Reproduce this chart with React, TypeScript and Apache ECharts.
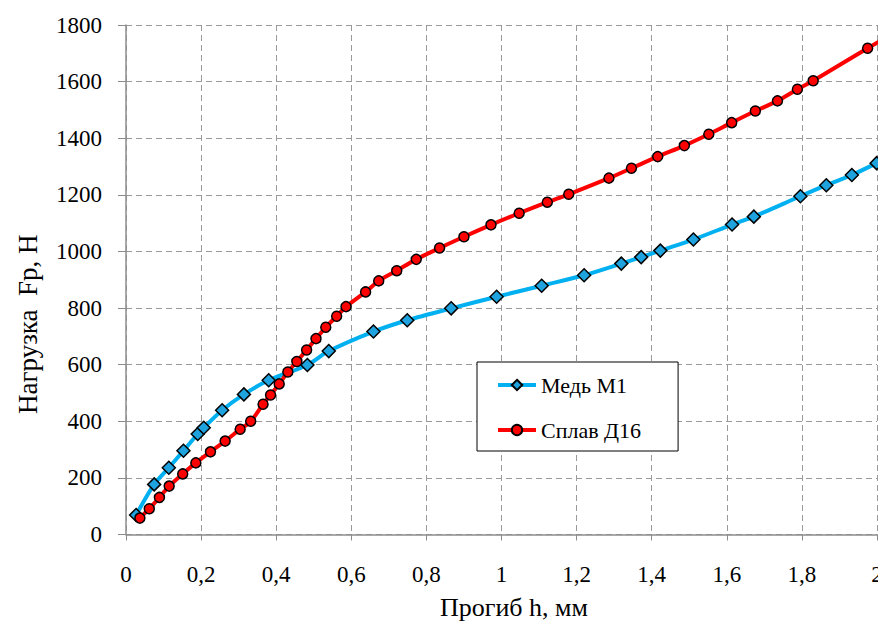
import React, { useEffect, useRef } from "react";
import * as echarts from "echarts";

const xTicks = [0, 0.2, 0.4, 0.6, 0.8, 1, 1.2, 1.4, 1.6, 1.8, 2];
const yTicks = [0, 200, 400, 600, 800, 1000, 1200, 1400, 1600, 1800];

const seriesNames = ["Медь М1", "Сплав Д16"];
const xTitle = "Прогиб h, мм";
const yTitle = "Нагрузка  Fp, Н";

const xCu = [0.027, 0.075, 0.114, 0.153, 0.191, 0.207, 0.256, 0.314, 0.38, 0.483, 0.54, 0.659, 0.749, 0.866, 0.987, 1.107, 1.22, 1.319, 1.372, 1.423, 1.511, 1.614, 1.672, 1.796, 1.865, 1.933, 1.999];
const yCu = [69, 177, 236, 296, 355, 377, 439, 495, 545, 599, 648, 717, 757, 799, 840, 879, 916, 957, 980, 1003, 1042, 1095, 1123, 1195, 1234, 1270, 1312];

const xAl = [0.037, 0.062, 0.089, 0.115, 0.151, 0.186, 0.225, 0.264, 0.304, 0.332, 0.365, 0.385, 0.408, 0.431, 0.455, 0.481, 0.506, 0.532, 0.561, 0.586, 0.638, 0.673, 0.721, 0.773, 0.835, 0.9, 0.972, 1.047, 1.122, 1.179, 1.286, 1.346, 1.416, 1.487, 1.552, 1.613, 1.676, 1.735, 1.788, 1.83, 1.975, 2.03];
const yAl = [58, 91, 131, 171, 214, 253, 292, 330, 372, 400, 460, 493, 532, 574, 611, 652, 692, 732, 771, 805, 857, 896, 932, 972, 1012, 1052, 1094, 1135, 1174, 1202, 1259, 1294, 1335, 1374, 1414, 1455, 1496, 1532, 1573, 1603, 1718, 1760];

const FONT = "Liberation Serif";

export default function App() {
  const ref = useRef<HTMLDivElement>(null);
  useEffect(() => {
    if (!ref.current) return;
    const chart = echarts.init(ref.current, null, { renderer: "svg" });
    const fmtX = (v: number) => String(Math.round(v * 10) / 10).replace(".", ",");
    const fmtY = (v: number) => String(Math.round(v));
    chart.setOption({
      animation: false,
      textStyle: { fontFamily: FONT },
      grid: { left: 118, right: 9, top: 17, bottom: 87.5, containLabel: false, outerBoundsMode: "none" },
      legend: {
        orient: "vertical",
        left: 469,
        top: 354,
        data: seriesNames,
        backgroundColor: "#ffffff",
        borderColor: "#000000",
        borderWidth: 1,
        borderRadius: 0,
        padding: [8, 37, 6, 19],
        itemGap: 15,
        itemWidth: 38,
        itemHeight: 13,
        lineStyle: { width: 4 },
        textStyle: { fontFamily: FONT, fontSize: 22, color: "#000", lineHeight: 30 },
      },
      graphic: [
        {
          type: "text",
          left: 432,
          top: 586,
          style: { text: xTitle, fontFamily: FONT, fontSize: 26, fill: "#000" },
        },
        {
          type: "text",
          x: 6,
          y: 406,
          rotation: Math.PI / 2,
          style: { text: yTitle, fontFamily: FONT, fontSize: 27, fill: "#000" },
        },
      ],
      xAxis: {
        type: "value",
        min: xTicks[0],
        max: xTicks[xTicks.length - 1],
        interval: 0.2,
        axisLine: { show: true, lineStyle: { color: "#8c8c8c", width: 1.5 } },
        axisTick: { show: true, length: 6, lineStyle: { color: "#8c8c8c" } },
        axisLabel: { formatter: fmtX, fontFamily: FONT, fontSize: 23, color: "#000", margin: 28 },
        splitLine: { show: true, lineStyle: { color: "#9a9a9a", type: [6, 4], width: 1 } },
      },
      yAxis: {
        type: "value",
        min: yTicks[0],
        max: yTicks[yTicks.length - 1],
        interval: 200,
        axisLine: { show: true, lineStyle: { color: "#8c8c8c", width: 1.5 } },
        axisTick: { show: true, length: 8, lineStyle: { color: "#8c8c8c" } },
        axisLabel: { formatter: fmtY, fontFamily: FONT, fontSize: 23, color: "#000", margin: 24 },
        splitLine: { show: true, lineStyle: { color: "#9a9a9a", type: [6, 4], width: 1 } },
      },
      series: [
        {
          name: seriesNames[0],
          type: "line",
          data: xCu.map((x, i) => [x, yCu[i]]),
          smooth: 0.3,
          clip: true,
          symbol: "diamond",
          symbolSize: 13,
          lineStyle: { color: "#00B0F0", width: 4 },
          itemStyle: { color: "#1FA3DE", borderColor: "#000", borderWidth: 1.5 },
          z: 2,
        },
        {
          name: seriesNames[1],
          type: "line",
          data: xAl.map((x, i) => [x, yAl[i]]),
          smooth: 0.3,
          clip: true,
          symbol: "circle",
          symbolSize: 10,
          lineStyle: { color: "#FF0000", width: 4 },
          itemStyle: { color: "#FF0000", borderColor: "#000", borderWidth: 1.5 },
          z: 3,
        },
      ],
    });
    return () => chart.dispose();
  }, []);
  return (
    <>
      <style>{`#root svg text { font-family: "Liberation Serif", "Times New Roman", serif !important; }`}</style>
      <div ref={ref} style={{ width: 878, height: 614 }} />
    </>
  );
}
